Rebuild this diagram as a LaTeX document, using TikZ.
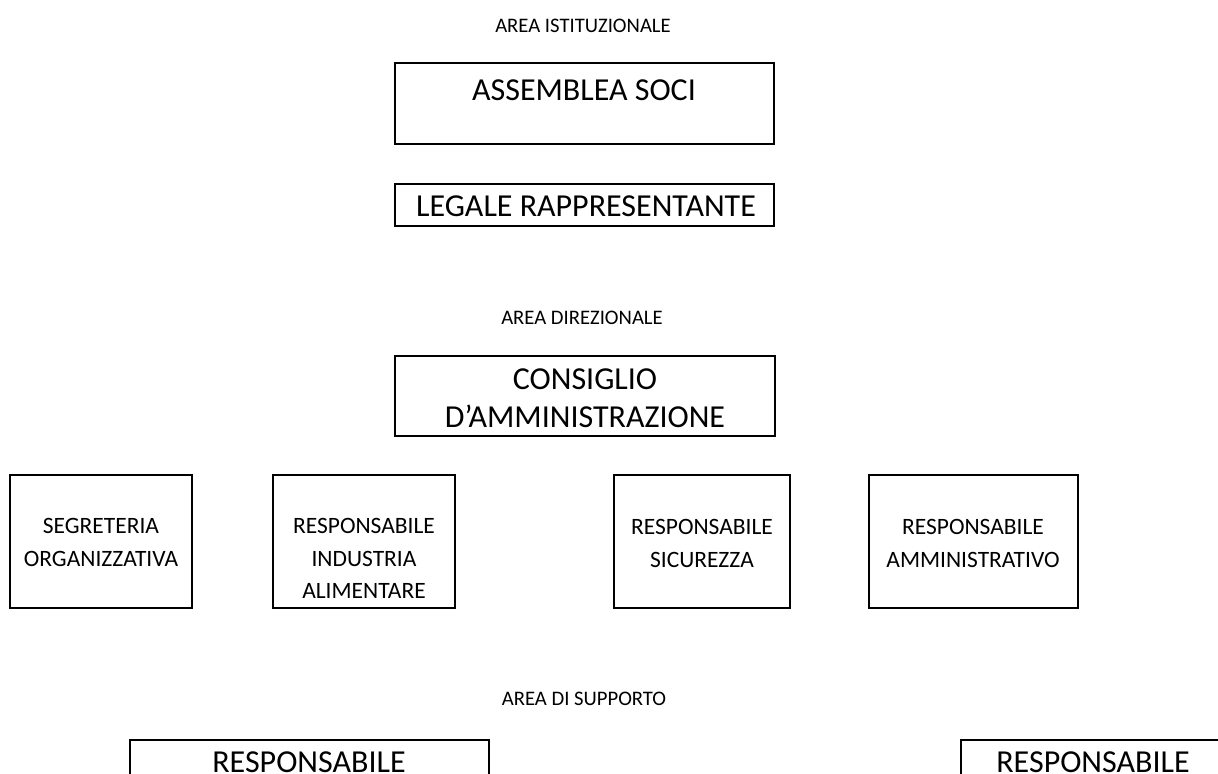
\documentclass[tikz,border=0pt]{standalone}
\usepackage{fontspec}
\setmainfont{Carlito}
\usetikzlibrary{fit}
\begin{document}
\begin{tikzpicture}[x=0.75pt,y=-0.75pt,
  box/.style={draw=black,line width=1.5pt,rectangle,inner sep=0pt},
  big/.style={inner sep=0pt,anchor=north,align=center,font=\fontsize{24pt}{29.2pt}\selectfont},
  mid/.style={inner sep=0pt,anchor=north,align=center,font=\fontsize{17.6pt}{24.4pt}\selectfont},
  small/.style={inner sep=0pt,anchor=north,font=\fontsize{15.5pt}{18pt}\selectfont}]
\useasboundingbox (0,0) rectangle (1218,774);
\clip (0,0) rectangle (1218,774);
% area labels
\node[small] (l1) at (583,19) {AREA ISTITUZIONALE};
\node[small] (l2) at (582,311) {AREA DIREZIONALE};
\node[small] (l3) at (584,692) {AREA DI SUPPORTO};
% boxes
\node[box,fit={(395,63) (774,144)}] (as) {};
\node[big] (ast) at (584,79) {ASSEMBLEA SOCI};
\node[box,fit={(395,184) (774,226)}] (lr) {};
\node[big] (lrt) at (586,195) {LEGALE RAPPRESENTANTE};
\node[box,fit={(395,356) (775,436)}] (cda) {};
\node[big] (cdat) at (585,368) {CONSIGLIO\\D’AMMINISTRAZIONE};
\node[box,fit={(10,475) (192,608)}] (seg) {};
\node[mid] (segt) at (101,518) {SEGRETERIA\\ORGANIZZATIVA};
\node[box,fit={(273,475) (455,608)}] (ria) {};
\node[mid] (riat) at (364,518) {RESPONSABILE\\INDUSTRIA\\ALIMENTARE};
\node[box,fit={(614,475) (790,608)}] (sic) {};
\node[mid] (sict) at (702,519) {RESPONSABILE\\SICUREZZA};
\node[box,fit={(869,475) (1078,608)}] (amm) {};
\node[mid] (ammt) at (973,519) {RESPONSABILE\\AMMINISTRATIVO};
\node[box,fit={(130,740) (489,800)}] (b1) {};
\node[big,text depth=0pt] (b1t) at (309,751) {RESPONSABILE};
\node[box,fit={(961,740) (1228,800)}] (b2) {};
\node[big,text depth=0pt] (b2t) at (1093,751) {RESPONSABILE};
\end{tikzpicture}
\end{document}
